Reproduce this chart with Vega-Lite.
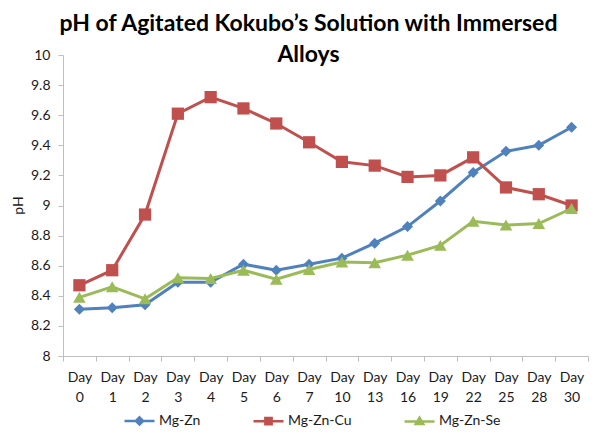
{
  "$schema": "https://vega.github.io/schema/vega-lite/v6.json",
  "width": 525,
  "height": 301,
  "autosize": {"type": "none"},
  "padding": {"left": 63, "top": 55, "right": 12, "bottom": 79},
  "background": "white",
  "config": {"view": {"stroke": null}, "font": "Lato"},
  "title": {
    "text": ["pH of Agitated Kokubo’s Solution with Immersed", "Alloys"],
    "font": "Lato",
    "fontSize": 23,
    "fontWeight": "bold",
    "color": "#000000",
    "lineHeight": 31,
    "anchor": "middle",
    "dx": -17,
    "offset": -19
  },
  "data": {
    "values": [
      {"day": "Day 0", "series": "Mg-Zn", "ph": 8.31},
      {"day": "Day 1", "series": "Mg-Zn", "ph": 8.32},
      {"day": "Day 2", "series": "Mg-Zn", "ph": 8.34},
      {"day": "Day 3", "series": "Mg-Zn", "ph": 8.49},
      {"day": "Day 4", "series": "Mg-Zn", "ph": 8.49},
      {"day": "Day 5", "series": "Mg-Zn", "ph": 8.61},
      {"day": "Day 6", "series": "Mg-Zn", "ph": 8.57},
      {"day": "Day 7", "series": "Mg-Zn", "ph": 8.61},
      {"day": "Day 10", "series": "Mg-Zn", "ph": 8.65},
      {"day": "Day 13", "series": "Mg-Zn", "ph": 8.75},
      {"day": "Day 16", "series": "Mg-Zn", "ph": 8.86},
      {"day": "Day 19", "series": "Mg-Zn", "ph": 9.03},
      {"day": "Day 22", "series": "Mg-Zn", "ph": 9.22},
      {"day": "Day 25", "series": "Mg-Zn", "ph": 9.36},
      {"day": "Day 28", "series": "Mg-Zn", "ph": 9.4},
      {"day": "Day 30", "series": "Mg-Zn", "ph": 9.52},
      {"day": "Day 0", "series": "Mg-Zn-Cu", "ph": 8.47},
      {"day": "Day 1", "series": "Mg-Zn-Cu", "ph": 8.57},
      {"day": "Day 2", "series": "Mg-Zn-Cu", "ph": 8.94},
      {"day": "Day 3", "series": "Mg-Zn-Cu", "ph": 9.61},
      {"day": "Day 4", "series": "Mg-Zn-Cu", "ph": 9.72},
      {"day": "Day 5", "series": "Mg-Zn-Cu", "ph": 9.645},
      {"day": "Day 6", "series": "Mg-Zn-Cu", "ph": 9.545},
      {"day": "Day 7", "series": "Mg-Zn-Cu", "ph": 9.42},
      {"day": "Day 10", "series": "Mg-Zn-Cu", "ph": 9.29},
      {"day": "Day 13", "series": "Mg-Zn-Cu", "ph": 9.265},
      {"day": "Day 16", "series": "Mg-Zn-Cu", "ph": 9.19},
      {"day": "Day 19", "series": "Mg-Zn-Cu", "ph": 9.2},
      {"day": "Day 22", "series": "Mg-Zn-Cu", "ph": 9.32},
      {"day": "Day 25", "series": "Mg-Zn-Cu", "ph": 9.12},
      {"day": "Day 28", "series": "Mg-Zn-Cu", "ph": 9.075},
      {"day": "Day 30", "series": "Mg-Zn-Cu", "ph": 9.0},
      {"day": "Day 0", "series": "Mg-Zn-Se", "ph": 8.39},
      {"day": "Day 1", "series": "Mg-Zn-Se", "ph": 8.46},
      {"day": "Day 2", "series": "Mg-Zn-Se", "ph": 8.38},
      {"day": "Day 3", "series": "Mg-Zn-Se", "ph": 8.52},
      {"day": "Day 4", "series": "Mg-Zn-Se", "ph": 8.515},
      {"day": "Day 5", "series": "Mg-Zn-Se", "ph": 8.57},
      {"day": "Day 6", "series": "Mg-Zn-Se", "ph": 8.51},
      {"day": "Day 7", "series": "Mg-Zn-Se", "ph": 8.575},
      {"day": "Day 10", "series": "Mg-Zn-Se", "ph": 8.625},
      {"day": "Day 13", "series": "Mg-Zn-Se", "ph": 8.62},
      {"day": "Day 16", "series": "Mg-Zn-Se", "ph": 8.67},
      {"day": "Day 19", "series": "Mg-Zn-Se", "ph": 8.735},
      {"day": "Day 22", "series": "Mg-Zn-Se", "ph": 8.895},
      {"day": "Day 25", "series": "Mg-Zn-Se", "ph": 8.87},
      {"day": "Day 28", "series": "Mg-Zn-Se", "ph": 8.88},
      {"day": "Day 30", "series": "Mg-Zn-Se", "ph": 8.98}
    ]
  },
  "encoding": {
    "x": {
      "field": "day",
      "type": "nominal",
      "sort": ["Day 0", "Day 1", "Day 2", "Day 3", "Day 4", "Day 5", "Day 6", "Day 7", "Day 10", "Day 13", "Day 16", "Day 19", "Day 22", "Day 25", "Day 28", "Day 30"],
      "bandPosition": 0.5,
      "scale": {"type": "band", "paddingInner": 0, "paddingOuter": 0},
      "axis": {
        "title": null,
        "labelAngle": 0,
        "labelExpr": "datum.value ? split(datum.value, ' ') : ''",
        "tickBand": "extent",
        "domainColor": "#bfbfbf",
        "tickColor": "#bfbfbf",
        "tickSize": 5,
        "labelPadding": 9,
        "labelFont": "Lato",
        "labelFontSize": 14,
        "labelLineHeight": 20,
        "labelColor": "#1a1a1a",
        "labelOverlap": false,
        "grid": false
      }
    },
    "y": {
      "field": "ph",
      "type": "quantitative",
      "scale": {"domain": [8, 10], "nice": false, "zero": false},
      "axis": {
        "title": "pH",
        "values": [8, 8.2, 8.4, 8.6, 8.8, 9, 9.2, 9.4, 9.6, 9.8, 10],
        "format": "~g",
        "grid": false,
        "domainColor": "#bfbfbf",
        "tickColor": "#bfbfbf",
        "tickSize": 5,
        "labelPadding": 8,
        "labelFont": "Lato",
        "labelFontSize": 14,
        "labelColor": "#1a1a1a",
        "titleFont": "Lato",
        "titleFontSize": 14,
        "titleFontWeight": "normal",
        "titleColor": "#1a1a1a",
        "titleX": -45,
        "titleY": 150,
        "titleAlign": "center",
        "titleBaseline": "middle"
      }
    },
    "color": {
      "field": "series",
      "type": "nominal",
      "sort": ["Mg-Zn", "Mg-Zn-Cu", "Mg-Zn-Se"],
      "scale": {"domain": ["Mg-Zn", "Mg-Zn-Cu", "Mg-Zn-Se"], "range": ["#4F81BD", "#C0504D", "#9BBB59"]},
      "legend": {
        "orient": "none",
        "legendX": 60,
        "legendY": 349,
        "direction": "horizontal",
        "title": null,
        "columnPadding": 47,
        "labelOffset": 3,
        "symbolSize": 900,
        "symbolStrokeWidth": 2.5,
        "labelFont": "Lato",
        "labelFontSize": 14,
        "labelColor": "#1a1a1a",
        "encode": {
          "symbols": {
            "update": {
              "shape": {"signal": "datum.value === 'Mg-Zn' ? 'M-1,0L1,0M0,-0.24L0.24,0L0,0.24L-0.24,0Z' : datum.value === 'Mg-Zn-Cu' ? 'M-1,0L1,0M-0.21,-0.21L0.21,-0.21L0.21,0.21L-0.21,0.21Z' : 'M-1,0L1,0M0,-0.25L0.25,0.18L-0.25,0.18Z'"},
              "fill": {"signal": "scale('color', datum.value)"},
              "stroke": {"signal": "scale('color', datum.value)"},
              "strokeWidth": {"value": 2.5},
              "size": {"value": 900},
              "opacity": {"value": 1}
            }
          }
        }
      }
    }
  },
  "layer": [
    {"transform": [{"filter": "datum.series === 'Mg-Zn'"}], "mark": {"type": "line", "strokeWidth": 3}},
    {"transform": [{"filter": "datum.series === 'Mg-Zn'"}], "mark": {"type": "point", "filled": true, "opacity": 1, "shape": "diamond", "size": 121}},
    {"transform": [{"filter": "datum.series === 'Mg-Zn-Cu'"}], "mark": {"type": "line", "strokeWidth": 3}},
    {"transform": [{"filter": "datum.series === 'Mg-Zn-Cu'"}], "mark": {"type": "point", "filled": true, "opacity": 1, "shape": "square", "size": 150}},
    {"transform": [{"filter": "datum.series === 'Mg-Zn-Se'"}], "mark": {"type": "line", "strokeWidth": 3}},
    {"transform": [{"filter": "datum.series === 'Mg-Zn-Se'"}], "mark": {"type": "point", "filled": true, "opacity": 1, "shape": "triangle-up", "size": 160}}
  ]
}
